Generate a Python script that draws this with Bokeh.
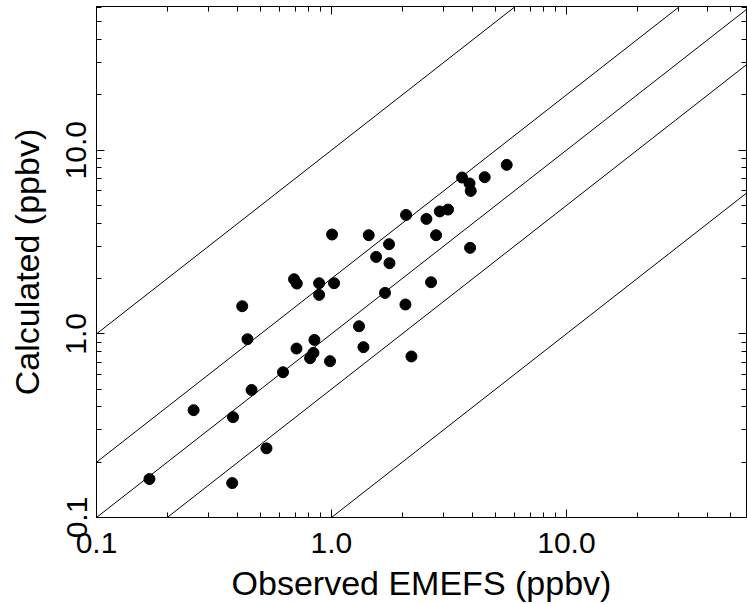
from bokeh.plotting import figure
from bokeh.models import LogAxis, FixedTicker, Range1d
from bokeh.embed import file_html
from bokeh.resources import INLINE

# Observed EMEFS (ppbv)
observed = [0.168, 0.259, 0.381, 0.378, 0.417, 0.439, 0.457, 0.529, 0.622, 0.693,
            0.712, 0.710, 0.811, 0.838, 0.846, 0.886, 0.886, 0.986, 1.006, 1.026,
            1.31, 1.368, 1.441, 1.549, 1.690, 1.758, 1.766, 2.065, 2.077, 2.19,
            2.536, 2.654, 2.788, 2.89, 3.135, 3.596, 3.87, 3.916, 3.89, 4.49, 5.57]
# Calculated (ppbv)
calculated = [0.162, 0.384, 0.352, 0.154, 1.414, 0.935, 0.495, 0.238, 0.618, 1.984,
              1.879, 0.832, 0.737, 0.788, 0.927, 1.887, 1.630, 0.710, 3.475, 1.887,
              1.10, 0.846, 3.445, 2.624, 1.671, 3.077, 2.425, 1.445, 4.44, 0.753,
              4.226, 1.911, 3.445, 4.64, 4.75, 7.10, 6.59, 6.00, 2.94, 7.13, 8.32]

ratios = [10, 2, 1, 0.5, 0.1]
major_ticks = [0.1, 1.0, 10.0]
tick_labels = {0.1: "0.1", 1.0: "1.0", 10.0: "10.0"}
minor_ticks = [m * d for d in [0.1, 1.0, 10.0] for m in range(2, 10)]

FONT = "Liberation Sans"

p = figure(width=747, height=604, x_axis_type="log", y_axis_type="log",
           x_range=Range1d(0.1, 58.4), y_range=Range1d(0.1, 60.6),
           output_backend="svg", toolbar_location=None,
           min_border_left=96, min_border_right=1, min_border_top=6, min_border_bottom=87)
p.background_fill_color = "white"
p.border_fill_color = "white"
p.outline_line_color = "black"
p.xgrid.visible = False
p.ygrid.visible = False

line_x = [0.01, 1000.0]
for r in ratios:
    p.line(line_x, [r * v for v in line_x], line_color="black", line_width=1)

p.scatter(observed, calculated, size=11, marker="circle", fill_color="black", line_color="black")

ticker = FixedTicker(ticks=major_ticks, minor_ticks=minor_ticks)

def style_axis(ax, show_labels):
    ax.ticker = ticker
    ax.axis_line_color = "black"
    ax.axis_line_width = 1
    ax.major_tick_in = 8
    ax.major_tick_out = 0
    ax.minor_tick_in = 5
    ax.minor_tick_out = 0
    ax.major_tick_line_color = "black"
    ax.minor_tick_line_color = "black"
    if show_labels:
        ax.major_label_overrides = tick_labels
        ax.major_label_text_font = FONT
        ax.major_label_text_font_size = "30px"
        ax.major_label_text_color = "black"
        ax.axis_label_text_font = FONT
        ax.axis_label_text_font_size = "34px"
        ax.axis_label_text_font_style = "normal"
        ax.axis_label_text_color = "black"
    else:
        ax.major_label_text_font_size = "1px"
        ax.major_label_text_color = None
        ax.major_label_standoff = 0

xa = p.xaxis[0]
style_axis(xa, True)
xa.axis_label = "Observed EMEFS (ppbv)"
xa.major_label_standoff = 15
xa.axis_label_standoff = 8

ya = p.yaxis[0]
style_axis(ya, True)
ya.axis_label = "Calculated (ppbv)"
ya.major_label_orientation = "parallel"
ya.major_label_standoff = 10
ya.axis_label_standoff = 18

top = LogAxis()
style_axis(top, False)
p.add_layout(top, "above")
right = LogAxis()
style_axis(right, False)
p.add_layout(right, "right")

open("out.html", "w").write(file_html(p, INLINE))
